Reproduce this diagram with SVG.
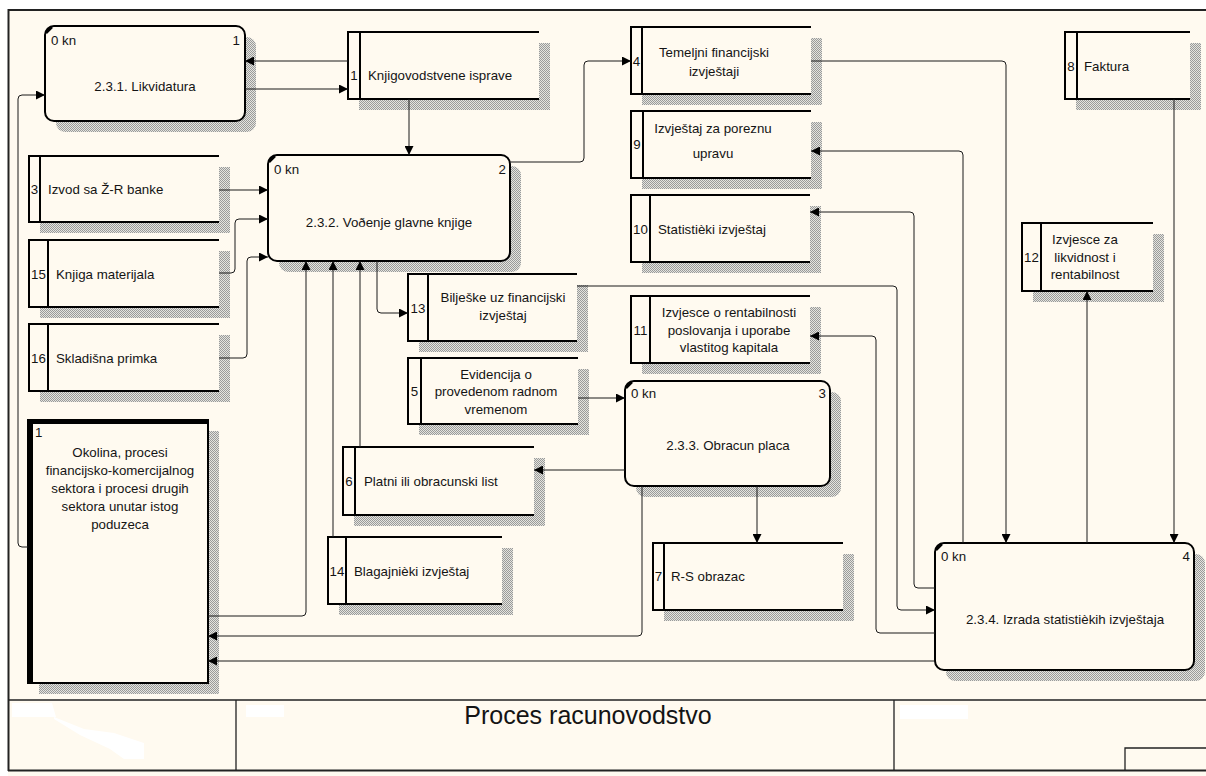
<svg xmlns="http://www.w3.org/2000/svg" width="1206" height="776" viewBox="0 0 1206 776">
<defs>
<pattern id="hatch" width="2" height="2" patternUnits="userSpaceOnUse"><rect width="2" height="2" fill="#e4e4de"/><rect width="1" height="1" fill="#9a9a9a"/><rect x="1" y="1" width="1" height="1" fill="#9a9a9a"/></pattern>
<marker id="ar" viewBox="0 0 10 10" refX="10" refY="5" markerWidth="11" markerHeight="9" markerUnits="userSpaceOnUse" orient="auto"><path d="M0,0 L10,5 L0,10 z" fill="#000"/></marker>
<style>
.t{font-family:"Liberation Sans",Arial,sans-serif;font-size:13.3px;fill:#141414}
.m{text-anchor:middle}
.e{text-anchor:end}
.ds{fill:none;stroke:#000;stroke-width:2}
.fill{fill:#fffaf0}
.proc{fill:#fffaf0;stroke:#000;stroke-width:2}
.sh{fill:url(#hatch)}
.ca{fill:none;stroke:#1a1a1a;stroke-width:1;marker-end:url(#ar)}
.fr{fill:none;stroke:#222;stroke-width:2}
.fr1{fill:none;stroke:#222;stroke-width:1.3}
.tick{stroke:#000;stroke-width:2.5}
</style>
</defs>
<rect width="1206" height="776" fill="#ffffff"/>
<rect x="8" y="10" width="1198" height="766" fill="#fffaf0"/>
<g id="frame">
<path class="fr" d="M8,10 H1206 M8.5,9 V771"/>
<path class="fr1" d="M8,700 H1206 M236,700 V770 M894,700 V770 M1125,770 V748 H1206"/>
<path class="fr" d="M8,770.5 H1206"/>
<path d="M12,703 h40 l4,14 h-44 z M54,717 l30,12 l30,4 l30,10 v16 h-20 l-14,-10 l-30,-14 l-26,-16 z M246,705 h38 v12 h-38 z M900,705 h68 v14 h-68 z" fill="#ffffff"/>
<text class="t m" x="588" y="724" style="font-size:25px">Proces racunovodstvo</text>
</g>
<g id="p231">
<rect class="sh" x="56" y="37" width="200" height="95" rx="9"/>
<rect class="proc" x="45" y="26" width="200" height="95" rx="9"/>
<line class="tick" x1="46" y1="33" x2="52" y2="27"/>
<text class="t" x="51" y="45">0 kn</text><text class="t e" x="240" y="45">1</text>
<text class="t m" x="145" y="91">2.3.1. Likvidatura</text>
</g>
<g id="p232">
<rect class="sh" x="279" y="166" width="242" height="106" rx="9"/>
<rect class="proc" x="268" y="155" width="242" height="106" rx="9"/>
<line class="tick" x1="269" y1="162" x2="275" y2="156"/>
<text class="t" x="274" y="174">0 kn</text><text class="t e" x="506" y="174">2</text>
<text class="t m" x="389" y="227">2.3.2. Voðenje glavne knjige</text>
</g>
<g id="p233">
<rect class="sh" x="636" y="392" width="205" height="105" rx="9"/>
<rect class="proc" x="625" y="381" width="205" height="105" rx="9"/>
<line class="tick" x1="626" y1="388" x2="632" y2="382"/>
<text class="t" x="631" y="398">0 kn</text><text class="t e" x="826" y="398">3</text>
<text class="t m" x="728" y="450">2.3.3. Obracun placa</text>
</g>
<g id="p234">
<rect class="sh" x="946" y="554" width="259" height="127" rx="9"/>
<rect class="proc" x="935" y="543" width="259" height="127" rx="9"/>
<line class="tick" x1="936" y1="550" x2="942" y2="544"/>
<text class="t" x="941" y="561">0 kn</text><text class="t e" x="1190" y="561">4</text>
<text class="t m" x="1065" y="624">2.3.4. Izrada statistièkih izvještaja</text>
</g>
<g id="ext1">
<rect class="sh" x="39" y="431" width="180" height="263"/>
<rect class="proc" x="28" y="420" width="180" height="263"/>
<path d="M30.5,419 V684 M28,421.5 H208" stroke="#000" stroke-width="5" fill="none"/>
<text class="t" x="35" y="437">1</text>
<text class="t m" x="120" y="457">Okolina, procesi</text>
<text class="t m" x="120" y="475">financijsko-komercijalnog</text>
<text class="t m" x="120" y="493">sektora i procesi drugih</text>
<text class="t m" x="120" y="511">sektora unutar istog</text>
<text class="t m" x="120" y="529">poduzeca</text>
</g>
<g id="ds1">
<rect class="sh" x="359" y="43" width="191" height="67"/><rect class="fill" x="348" y="32" width="191" height="67"/>
<path class="ds" d="M539,32 H348 V99 H539 M360,32 V99"/>
<text class="t m" x="354" y="80">1</text><text class="t" x="368" y="80">Knjigovodstvene isprave</text>
</g>
<g id="ds4">
<rect class="sh" x="642" y="38" width="180" height="67"/><rect class="fill" x="631" y="27" width="180" height="67"/>
<path class="ds" d="M811,27 H631 V94 H811 M642,27 V94"/>
<text class="t m" x="636.5" y="66">4</text>
<text class="t m" x="714" y="57">Temeljni financijski</text><text class="t m" x="714" y="76">izvještaji</text>
</g>
<g id="ds8">
<rect class="sh" x="1076" y="43" width="125" height="67"/><rect class="fill" x="1065" y="32" width="125" height="67"/>
<path class="ds" d="M1190,32 H1065 V99 H1190 M1077,32 V99"/>
<text class="t m" x="1071" y="71">8</text><text class="t" x="1084" y="71">Faktura</text>
</g>
<g id="ds9">
<rect class="sh" x="642" y="122" width="180" height="67"/><rect class="fill" x="631" y="111" width="180" height="67"/>
<path class="ds" d="M811,111 H631 V178 H811 M643,111 V178"/>
<text class="t m" x="637" y="149">9</text>
<text class="t m" x="713" y="133">Izvještaj za poreznu</text><text class="t m" x="713" y="158">upravu</text>
</g>
<g id="ds10">
<rect class="sh" x="642" y="206" width="179" height="67"/><rect class="fill" x="631" y="195" width="179" height="67"/>
<path class="ds" d="M810,195 H631 V262 H810 M650,195 V262"/>
<text class="t m" x="640.5" y="234">10</text><text class="t" x="658" y="234">Statistièki izvještaj</text>
</g>
<g id="ds11">
<rect class="sh" x="642" y="307" width="179" height="67"/><rect class="fill" x="631" y="296" width="179" height="67"/>
<path class="ds" d="M810,296 H631 V363 H810 M650,296 V363"/>
<text class="t m" x="640.5" y="335">11</text>
<text class="t m" x="729" y="317">Izvjesce o rentabilnosti</text><text class="t m" x="729" y="335">poslovanja i uporabe</text><text class="t m" x="729" y="352">vlastitog kapitala</text>
</g>
<g id="ds12">
<rect class="sh" x="1033" y="234" width="131" height="68"/><rect class="fill" x="1022" y="223" width="131" height="68"/>
<path class="ds" d="M1153,223 H1022 V291 H1153 M1041,223 V291"/>
<text class="t m" x="1031.5" y="262">12</text>
<text class="t m" x="1085" y="244">Izvjesce za</text><text class="t m" x="1085" y="262">likvidnost i</text><text class="t m" x="1085" y="279">rentabilnost</text>
</g>
<g id="ds13">
<rect class="sh" x="419" y="285" width="169" height="67"/><rect class="fill" x="408" y="274" width="169" height="67"/>
<path class="ds" d="M577,274 H408 V341 H577 M428,274 V341"/>
<text class="t m" x="418" y="313">13</text>
<text class="t m" x="503" y="302">Bilješke uz financijski</text><text class="t m" x="503" y="320">izvještaj</text>
</g>
<g id="ds5">
<rect class="sh" x="419" y="369" width="170" height="66"/><rect class="fill" x="408" y="358" width="170" height="66"/>
<path class="ds" d="M578,358 H408 V424 H578 M421,358 V424"/>
<text class="t m" x="414.5" y="396">5</text>
<text class="t m" x="496" y="379">Evidencija o</text><text class="t m" x="496" y="396">provedenom radnom</text><text class="t m" x="496" y="414">vremenom</text>
</g>
<g id="ds3">
<rect class="sh" x="40" y="167" width="190" height="66"/><rect class="fill" x="29" y="156" width="190" height="66"/>
<path class="ds" d="M219,156 H29 V222 H219 M40,156 V222"/>
<text class="t m" x="34.5" y="194">3</text><text class="t" x="48" y="194">Izvod sa Ž-R banke</text>
</g>
<g id="ds15">
<rect class="sh" x="40" y="251" width="190" height="67"/><rect class="fill" x="29" y="240" width="190" height="67"/>
<path class="ds" d="M219,240 H29 V307 H219 M48,240 V307"/>
<text class="t m" x="38.5" y="279">15</text><text class="t" x="56" y="279">Knjiga materijala</text>
</g>
<g id="ds16">
<rect class="sh" x="40" y="335" width="190" height="67"/><rect class="fill" x="29" y="324" width="190" height="67"/>
<path class="ds" d="M219,324 H29 V391 H219 M48,324 V391"/>
<text class="t m" x="38.5" y="363">16</text><text class="t" x="56" y="363">Skladišna primka</text>
</g>
<g id="ds6">
<rect class="sh" x="354" y="458" width="191" height="68"/><rect class="fill" x="343" y="447" width="191" height="68"/>
<path class="ds" d="M534,447 H343 V515 H534 M355,447 V515"/>
<text class="t m" x="349" y="486">6</text><text class="t" x="364" y="486">Platni ili obracunski list</text>
</g>
<g id="ds14">
<rect class="sh" x="339" y="548" width="174" height="67"/><rect class="fill" x="328" y="537" width="174" height="67"/>
<path class="ds" d="M502,537 H328 V604 H502 M346,537 V604"/>
<text class="t m" x="337" y="576">14</text><text class="t" x="354" y="576">Blagajnièki izvještaj</text>
</g>
<g id="ds7">
<rect class="sh" x="664" y="554" width="190" height="67"/><rect class="fill" x="653" y="543" width="190" height="67"/>
<path class="ds" d="M843,543 H653 V610 H843 M664,543 V610"/>
<text class="t m" x="658.5" y="581">7</text><text class="t" x="671" y="581">R-S obrazac</text>
</g>
<g id="connectors">
<path class="ca" d="M348,61 H245"/>
<path class="ca" d="M245,89 H348"/>
<path class="ca" d="M409,99 V155"/>
<path class="ca" d="M510,162 H580 Q584,162 584,158 V65 Q584,61 588,61 H631"/>
<path class="ca" d="M219,190 H268"/>
<path class="ca" d="M219,273 H231 Q235,273 235,269 V223 Q235,219 239,219 H268"/>
<path class="ca" d="M219,358 H243 Q247,358 247,354 V261 Q247,257 251,257 H268"/>
<path class="ca" d="M360,447 V261"/>
<path class="ca" d="M333,537 V261"/>
<path class="ca" d="M208,616 H302 Q306,616 306,612 V261"/>
<path class="ca" d="M377,261 V309 Q377,313 381,313 H408"/>
<path class="ca" d="M578,398 H625"/>
<path class="ca" d="M625,470 H534"/>
<path class="ca" d="M757,486 V543"/>
<path class="ca" d="M642,486 V632 Q642,636 638,636 H208"/>
<path class="ca" d="M935,661 H208"/>
<path class="ca" d="M1174,99 V543"/>
<path class="ca" d="M1087,543 V291"/>
<path class="ca" d="M811,61 H1002 Q1006,61 1006,65 V543"/>
<path class="ca" d="M963,543 V155 Q963,151 959,151 H811"/>
<path class="ca" d="M935,588 H918 Q914,588 914,584 V216 Q914,212 910,212 H810"/>
<path class="ca" d="M577,286 H893 Q897,286 897,290 V606 Q897,610 901,610 H935"/>
<path class="ca" d="M935,633 H880 Q876,633 876,629 V340 Q876,336 872,336 H810"/>
<path class="ca" d="M28,547 H22 Q18,547 18,543 V99 Q18,95 22,95 H45"/>
</g>
</svg>
